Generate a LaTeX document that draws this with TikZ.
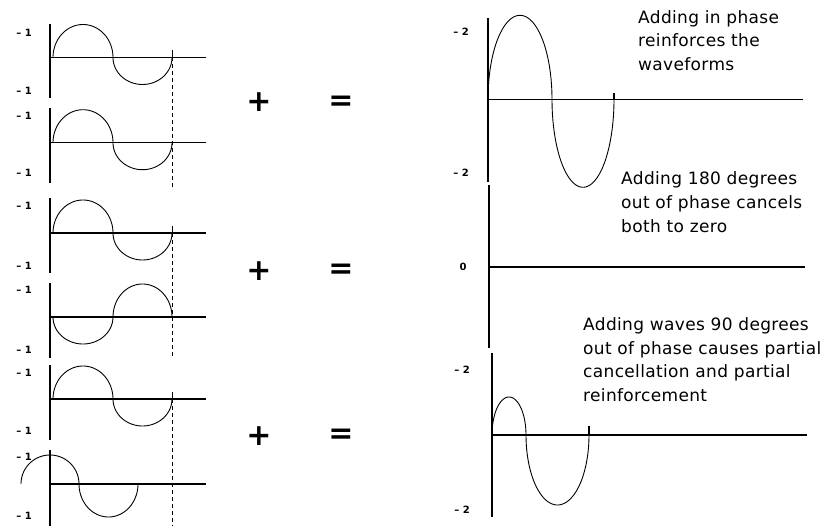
\documentclass[tikz,border=0pt]{standalone}
\usepackage{fontspec}
\setmainfont{DejaVu Sans}
\newfontfamily\txtfont[LetterSpace=2]{DejaVu Sans}
\tikzset{
  ax/.style={line width=1.2pt},
  wv/.style={line width=0.9pt},
  dsh/.style={line width=1.1pt, dash pattern=on 4pt off 3pt},
  lbl/.style={font=\fontsize{10}{10}\selectfont\bfseries, inner sep=0pt},
  txt/.style={font=\txtfont\fontsize{17}{17}\selectfont, anchor=base west, inner sep=0pt},
  op/.style={font=\fontsize{30}{30}\selectfont\bfseries, inner sep=0pt}
}
% half wave drawn as a half ellipse: x0, x1, axis y (image coords), amplitude (up positive)
\newcommand\halfwave[4]{%
  \draw[wv] plot[domain=180:0,samples=50,smooth] ({(#1+#2)/2+(#2-#1)/2*cos(\x)},{-#3+#4*sin(\x)});}
% left small axes: top, axis, bottom
\newcommand\leftaxes[3]{%
  \draw[ax] (50,-#1) -- (50,-#3);
  \draw[ax] (50,-#2) -- (206,-#2);}
\begin{document}
\begin{tikzpicture}[x=1pt,y=1pt]
\useasboundingbox (0,0) rectangle (833,-526);

% ---------- left column ----------
% plot 1
\leftaxes{24}{57.5}{98}
\halfwave{53}{113}{57.5}{33}
\halfwave{113}{172}{57.5}{-27}
% plot 2
\leftaxes{108}{142.7}{183}
\halfwave{53}{113}{142.7}{33}
\halfwave{113}{172}{142.7}{-27}
% plot 3
\leftaxes{198}{233}{273}
\halfwave{53}{113}{233}{33}
\halfwave{113}{172}{233}{-27}
% plot 4
\leftaxes{283}{317}{358}
\halfwave{53}{113}{317}{-27}
\halfwave{113}{172}{317}{33}
% plot 5
\leftaxes{365}{399}{440}
\halfwave{53}{113}{399}{33}
\halfwave{113}{172}{399}{-27}
% plot 6
\leftaxes{450}{484}{526}
\halfwave{21}{79}{484}{29}
\halfwave{79}{138}{484}{-33}

% ticks and dashed guides
\draw[ax] (172.5,-50) -- (172.5,-57.5);
\draw[ax] (172.5,-226) -- (172.5,-233);
\draw[ax] (172.5,-392) -- (172.5,-399);
\draw[dsh] (172.5,-57.5) -- (172.5,-190);
\draw[dsh] (172.5,-233) -- (172.5,-358);
\draw[dsh] (172.5,-399) -- (172.5,-526);

% left labels
\node[lbl] (l1a) at (24,-33) {– 1};
\node[lbl] (l1b) at (24,-91) {– 1};
\node[lbl] (l2a) at (24,-116) {– 1};
\node[lbl] (l2b) at (24,-173) {– 1};
\node[lbl] (l3a) at (24,-206) {– 1};
\node[lbl] (l3b) at (24,-266) {– 1};
\node[lbl] (l4a) at (24,-290) {– 1};
\node[lbl] (l4b) at (24,-350) {– 1};
\node[lbl] (l5a) at (24,-373) {– 1};
\node[lbl] (l5b) at (24,-431) {– 1};
\node[lbl] (l6a) at (24,-457) {– 1};
\node[lbl] (l6b) at (24,-516) {– 1};

% operators
\node[op] (p1) at (259,-102) {+};
\node[op] (e1) at (341,-103) {=};
\node[op] (p2) at (259,-271) {+};
\node[op] (e2) at (341,-271) {=};
\node[op] (p3) at (259,-436) {+};
\node[op] (e3) at (341,-436) {=};

% ---------- right column ----------
% R1
\draw[ax] (488,-18) -- (488,-182);
\draw[ax] (488,-99.3) -- (803,-99.3);
\halfwave{488}{552}{99.3}{84}
\halfwave{552}{614}{99.3}{-88}
\draw[ax] (614,-93) -- (614,-99.3);
% R2
\draw[ax] (489,-185) -- (489,-348);
\draw[ax] (489,-267) -- (805,-267);
% R3
\draw[ax] (492,-353) -- (492,-517);
\draw[ax] (492,-435) -- (807,-435);
\halfwave{492}{526}{435}{38}
\halfwave{526}{589}{435}{-70}
\draw[ax] (589,-426) -- (589,-435);

% right labels
\node[lbl] (r1a) at (461,-32) {– 2};
\node[lbl] (r1b) at (461,-173) {– 2};
\node[lbl] (r2a) at (463,-267) {0};
\node[lbl] (r3a) at (462,-370) {– 2};
\node[lbl] (r3b) at (462,-510) {– 2};

% text blocks
\node[txt] (t1a) at (638,-24) {Adding in phase};
\node[txt] (t1b) at (638,-47) {reinforces the};
\node[txt] (t1c) at (638,-70.7) {waveforms};
\node[txt] (t2a) at (621,-185) {Adding 180 degrees};
\node[txt] (t2b) at (621,-209) {out of phase cancels};
\node[txt] (t2c) at (621,-233) {both to zero};
\node[txt] (t3a) at (583,-331) {Adding waves 90 degrees};
\node[txt] (t3b) at (583,-355) {out of phase causes partial};
\node[txt] (t3c) at (583,-378) {cancellation and partial};
\node[txt] (t3d) at (583,-402) {reinforcement};
\end{tikzpicture}
\end{document}
